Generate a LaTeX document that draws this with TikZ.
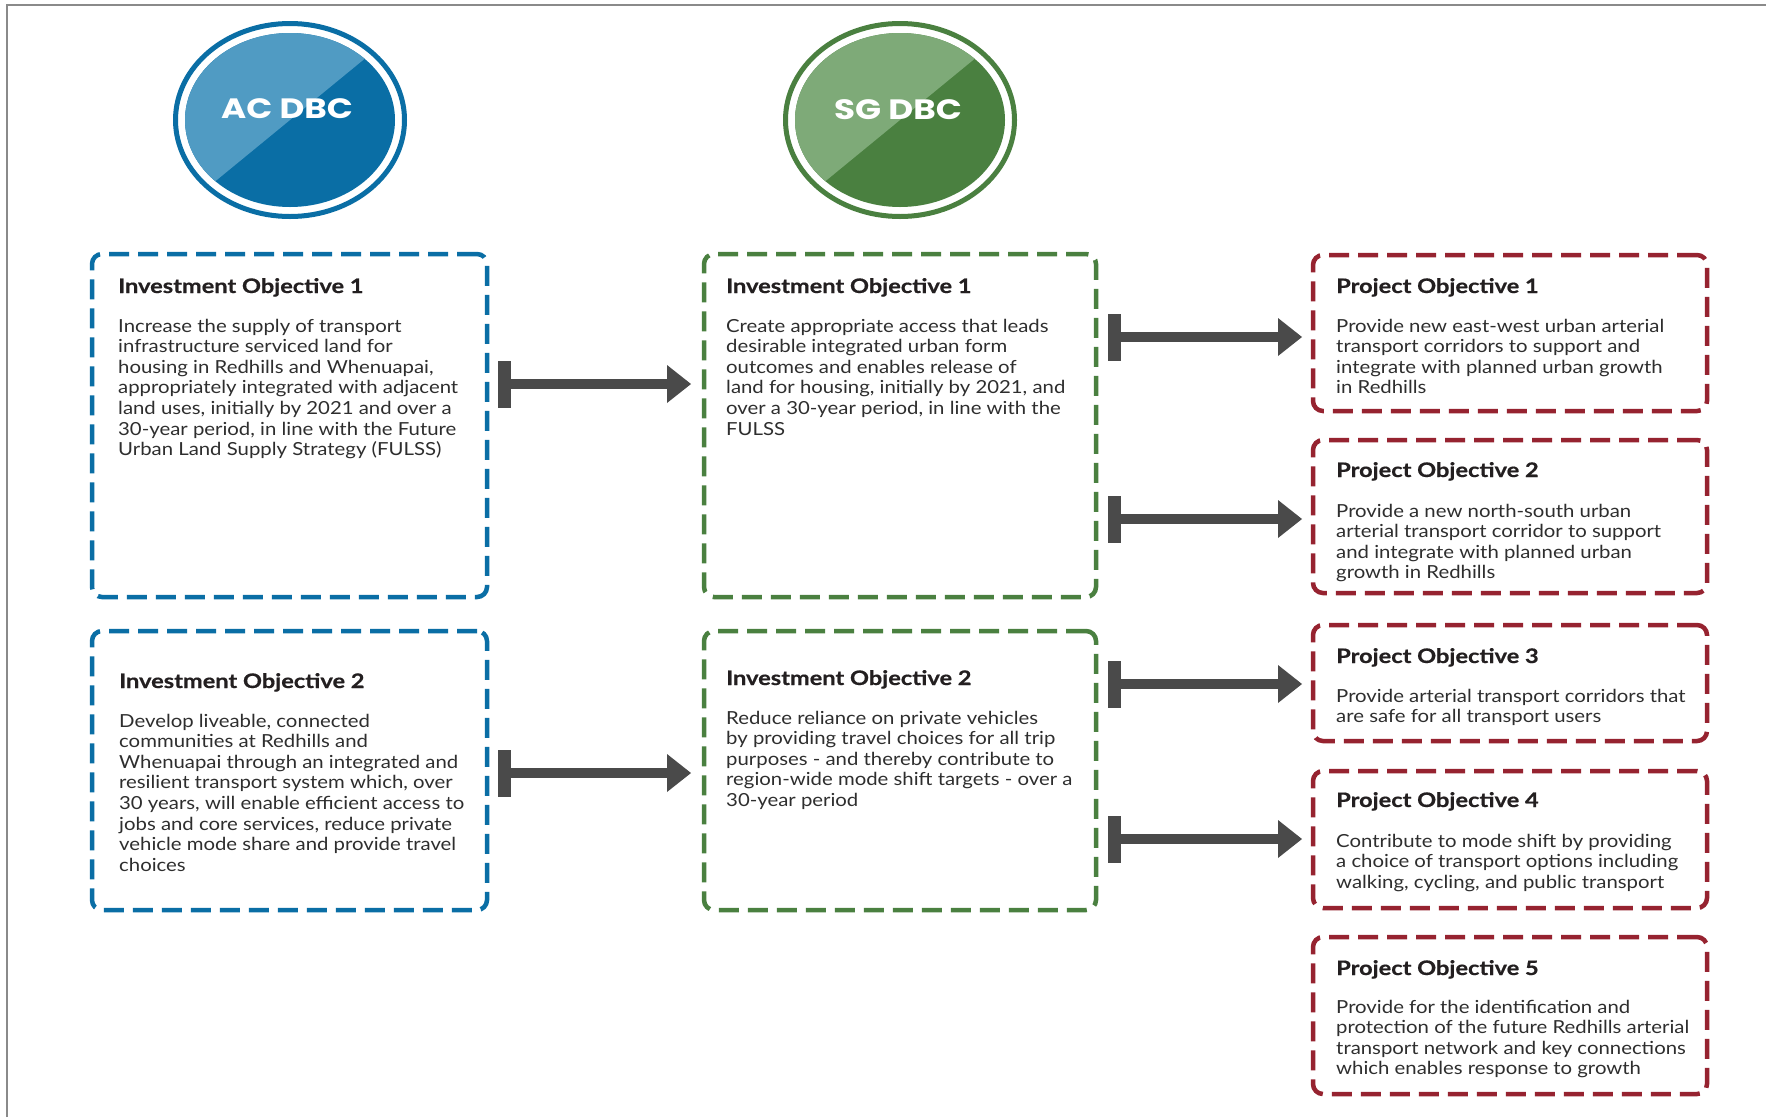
\documentclass[tikz,border=0pt]{standalone}
\usepackage{fontspec}
\setmainfont{Lato}[FakeStretch=1.13]
\newfontfamily\titlefont{Lato}[FakeStretch=1.18,FakeBold=0.6]
\newfontfamily\popfont{Poppins}[FakeStretch=1.22]
\usetikzlibrary{arrows.meta}
\definecolor{acdark}{HTML}{0A6EA5}
\definecolor{aclight}{HTML}{509BC3}
\definecolor{sgdark}{HTML}{4A8040}
\definecolor{sglight}{HTML}{7EAA78}
\definecolor{redline}{HTML}{962330}
\definecolor{arrowgray}{HTML}{4A4A4A}
\definecolor{titlecol}{HTML}{231F20}
\definecolor{bodycol}{HTML}{2E2E2E}
\definecolor{framecol}{HTML}{8A8A8A}
\begin{document}
\begin{tikzpicture}[x=1pt,y=-1pt,
  box/.style={draw, line width=4.5pt, rounded corners=10pt, dash pattern=on 20pt off 9pt,
    outer sep=0pt, inner sep=0pt, anchor=north west},
  bluebox/.style={box, draw=acdark},
  greenbox/.style={box, draw=sgdark},
  redbox/.style={box, draw=redline},
  ttl/.style={anchor=base west, inner sep=0pt, text=titlecol,
    font={\fontsize{20}{24}\titlefont\bfseries}},
  bodytext/.style={anchor=base west, inner sep=0pt, text=bodycol,
    font=\fontsize{18}{20.6}\selectfont},
  bigarrow/.style={draw=arrowgray, line width=10pt,
    {Rectangle[length=13pt,width=47pt,line width=0pt]}-{Triangle[length=24pt,width=38pt,line width=0pt]}},
  circtext/.style={text=white, inner sep=0pt, font={\fontsize{28}{30}\popfont\bfseries}}
]
\useasboundingbox (0,0) rectangle (1766,1117);
\fill[white] (0,0) rectangle (1766,1117);
\draw[framecol, line width=2pt] (7,1117) -- (7,5) -- (1766,5);

% AC DBC emblem
\draw[acdark, line width=5pt] (290,120) ellipse [x radius=114.5pt, y radius=96.5pt];
\begin{scope}
  \clip (290,120) ellipse [x radius=105pt, y radius=87pt];
  \fill[acdark] (170,20) rectangle (410,220);
  \fill[aclight] (290-300,120+246) -- (290+300,120-246) -- (290-300,120-246) -- cycle;
\end{scope}
\node[circtext] (ac) at (287,109) {AC DBC};

% SG DBC emblem
\draw[sgdark, line width=5pt] (900,120) ellipse [x radius=114.5pt, y radius=96.5pt];
\begin{scope}
  \clip (900,120) ellipse [x radius=105pt, y radius=87pt];
  \fill[sgdark] (780,20) rectangle (1020,220);
  \fill[sglight] (900-300,120+246) -- (900+300,120-246) -- (900-300,120-246) -- cycle;
\end{scope}
\node[circtext] (sg) at (898,110) {SG DBC};

% boxes
\node[bluebox, minimum width=395pt, minimum height=343pt] (b1) at (92,254) {};
\node[bluebox, minimum width=395pt, minimum height=279pt] (b2) at (92,631) {};
\node[greenbox, minimum width=392pt, minimum height=343pt] (g1) at (704,254) {};
\node[greenbox, minimum width=392pt, minimum height=279pt] (g2) at (704,631) {};
\node[redbox, minimum width=394pt, minimum height=156pt] (r1) at (1313,255) {};
\node[redbox, minimum width=394pt, minimum height=153pt] (r2) at (1313,440) {};
\node[redbox, minimum width=394pt, minimum height=116pt] (r3) at (1313,625) {};
\node[redbox, minimum width=394pt, minimum height=137pt] (r4) at (1313,771) {};
\node[redbox, minimum width=394pt, minimum height=157pt] (r5) at (1313,937) {};

% texts
\node[ttl] (b1t) at (118,293) {Investment Objective 1};
\node[bodytext] (b1b) at (118,332) {\begin{tabular}[t]{@{}l@{}}
Increase the supply of transport\\
infrastructure serviced land for\\
housing in Redhills and Whenuapai,\\
appropriately integrated with adjacent\\
land uses, initially by 2021 and over a\\
30-year period, in line with the Future\\
Urban Land Supply Strategy (FULSS)\end{tabular}};

\node[ttl] (g1t) at (726,293) {Investment Objective 1};
\node[bodytext] (g1b) at (726,332) {\begin{tabular}[t]{@{}l@{}}
Create appropriate access that leads\\
desirable integrated urban form\\
outcomes and enables release of\\
land for housing, initially by 2021, and\\
over a 30-year period, in line with the\\
FULSS\end{tabular}};

\node[ttl] (b2t) at (119,688) {Investment Objective 2};
\node[bodytext] (b2b) at (119,727) {\begin{tabular}[t]{@{}l@{}}
Develop liveable, connected\\
communities at Redhills and\\
Whenuapai through an integrated and\\
resilient transport system which, over\\
30 years, will enable efficient access to\\
jobs and core services, reduce private\\
vehicle mode share and provide travel\\
choices\end{tabular}};

\node[ttl] (g2t) at (726,685) {Investment Objective 2};
\node[bodytext] (g2b) at (726,724) {\begin{tabular}[t]{@{}l@{}}
Reduce reliance on private vehicles\\
by providing travel choices for all trip\\
purposes - and thereby contribute to\\
region-wide mode shift targets - over a\\
30-year period\end{tabular}};

\node[ttl] (r1t) at (1336,293) {Project Objective 1};
\node[bodytext] (r1b) at (1336,332) {\begin{tabular}[t]{@{}l@{}}
Provide new east-west urban arterial\\
transport corridors to support and\\
integrate with planned urban growth\\
in Redhills\end{tabular}};

\node[ttl] (r2t) at (1336,477) {Project Objective 2};
\node[bodytext] (r2b) at (1336,517) {\begin{tabular}[t]{@{}l@{}}
Provide a new north-south urban\\
arterial transport corridor to support\\
and integrate with planned urban\\
growth in Redhills\end{tabular}};

\node[ttl] (r3t) at (1336,663) {Project Objective 3};
\node[bodytext] (r3b) at (1336,702) {\begin{tabular}[t]{@{}l@{}}
Provide arterial transport corridors that\\
are safe for all transport users\end{tabular}};

\node[ttl] (r4t) at (1336,807) {Project Objective 4};
\node[bodytext] (r4b) at (1336,847) {\begin{tabular}[t]{@{}l@{}}
Contribute to mode shift by providing\\
a choice of transport options including\\
walking, cycling, and public transport\end{tabular}};

\node[ttl] (r5t) at (1336,975) {Project Objective 5};
\node[bodytext] (r5b) at (1336,1013) {\begin{tabular}[t]{@{}l@{}}
Provide for the identification and\\
protection of the future Redhills arterial\\
transport network and key connections\\
which enables response to growth\end{tabular}};

% connectors
\draw[bigarrow, shorten <=11pt, shorten >=13pt] (b1.east |- 0,384) -- (g1.west |- 0,384);
\draw[bigarrow, shorten <=11pt, shorten >=13pt] (b2.east |- 0,773) -- (g2.west |- 0,773);
\draw[bigarrow, shorten <=12pt, shorten >=11pt] (g1.east |- 0,337) -- (r1.west |- 0,337);
\draw[bigarrow, shorten <=12pt, shorten >=11pt] (g1.east |- 0,519) -- (r2.west |- 0,519);
\draw[bigarrow, shorten <=12pt, shorten >=11pt] (g2.east |- 0,684) -- (r3.west |- 0,684);
\draw[bigarrow, shorten <=12pt, shorten >=11pt] (g2.east |- 0,839) -- (r4.west |- 0,839);
\end{tikzpicture}
\end{document}
